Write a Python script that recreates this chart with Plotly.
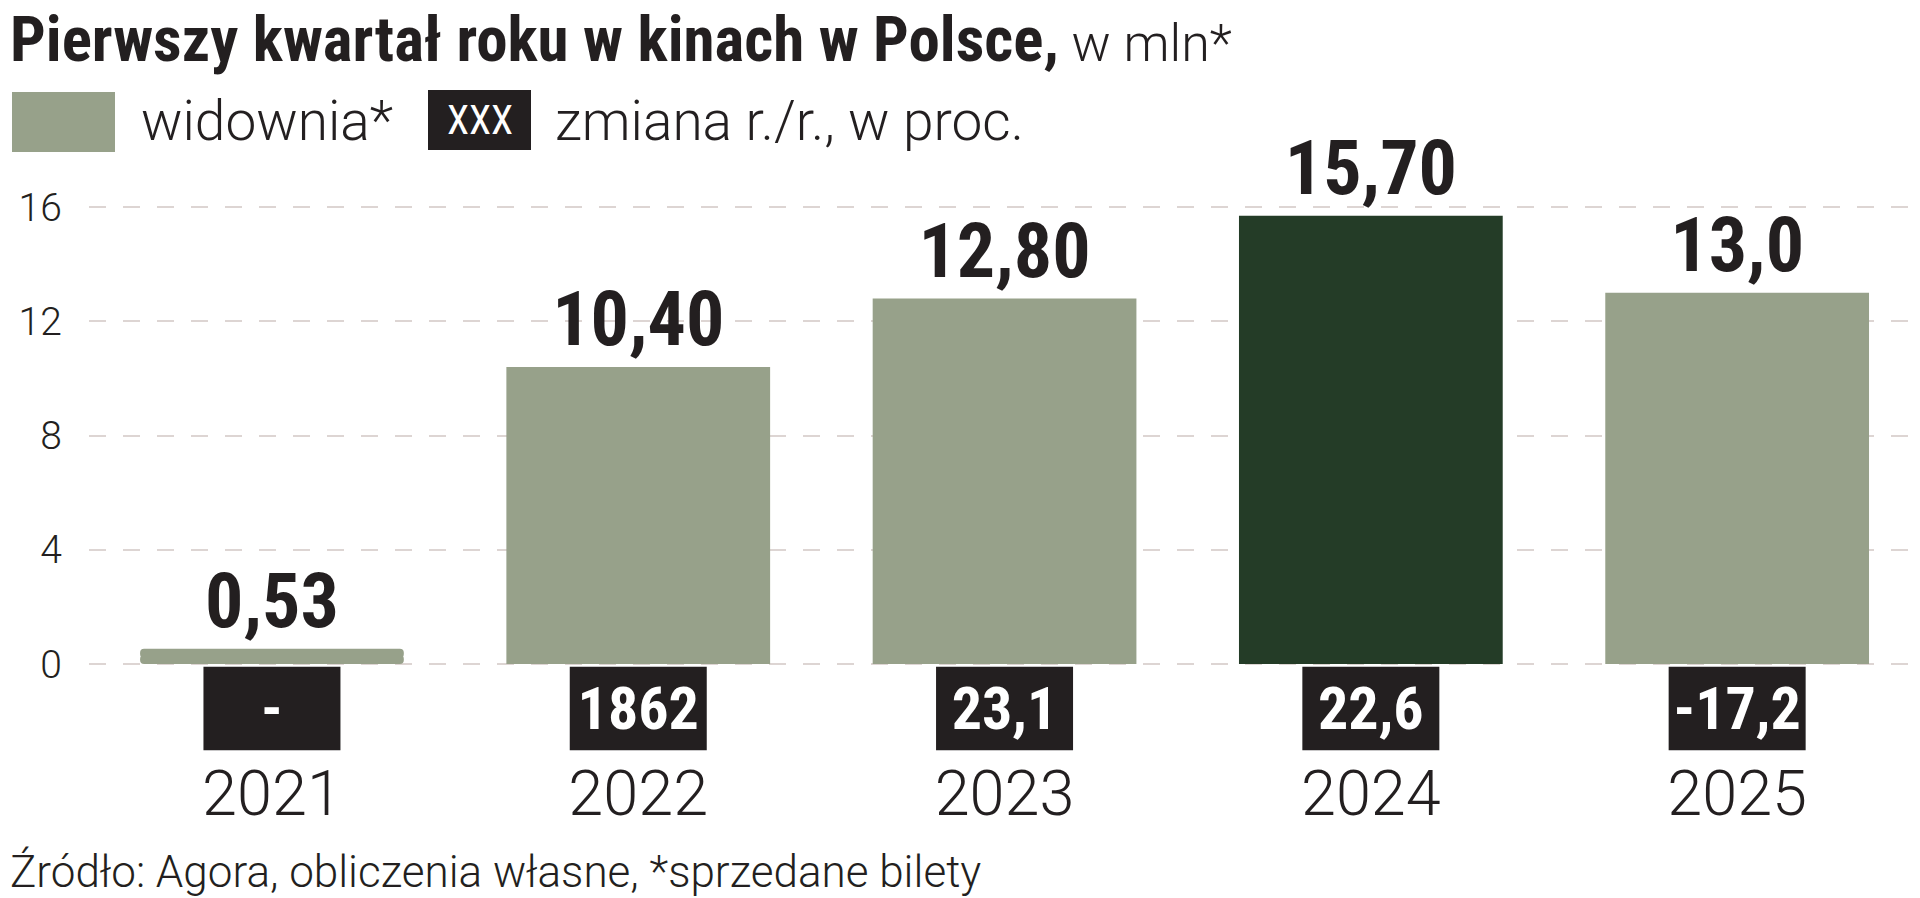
import plotly.graph_objects as go

# ---------------- data ----------------
years = ["2021", "2022", "2023", "2024", "2025"]
audience = [0.53, 10.40, 12.80, 15.70, 13.0]          # widownia, mln
audience_labels = ["0,53", "10,40", "12,80", "15,70", "13,0"]
yoy_labels = ["-", "1862", "23,1", "22,6", "-17,2"]   # zmiana r./r., w proc.
highlight_year = "2024"
y_ticks = [0, 4, 8, 12, 16]

# ---------------- style ----------------
W, H = 1920, 898
OFF = 8  # page body margin offset compensation
SAGE = "#97a18a"
DARK_GREEN = "#243c27"
BOX = "#231f20"
TEXT = "#231f20"
GRID = "#ddd5d3"
LIGHT = "Roboto"
NARROW = "Liberation Sans Narrow, Roboto Condensed, Roboto"

BAR_W = 0.72
BOX_W = 0.374
BOX_TOP = -0.1
BOX_DEPTH = -2.92

def px_x(p):
    return (p - OFF) / W

def px_y(p):
    return 1 - (p - OFF) / H

fig = go.Figure()

colors = [DARK_GREEN if y == highlight_year else SAGE for y in years]

# main bars (all but the tiny first one)
fig.add_trace(go.Bar(
    x=years[1:], y=audience[1:], width=BAR_W,
    marker=dict(color=colors[1:], line=dict(width=0)),
    text=audience_labels[1:], textposition="outside", textangle=0,
    textfont=dict(family=NARROW, size=76, color=TEXT, weight="bold"),
    constraintext="none", cliponaxis=False, hoverinfo="skip",
))

# tiny first bar drawn as a pill: two overlapping parts with rounded tips
v0 = audience[0]
fig.add_trace(go.Bar(
    x=years[:1], y=[-0.6 * v0], base=[0.6 * v0], width=BAR_W,
    marker=dict(color=colors[0], line=dict(width=0), cornerradius=7),
    hoverinfo="skip",
))
fig.add_trace(go.Bar(
    x=years[:1], y=[0.6 * v0], base=[0.4 * v0], width=BAR_W,
    marker=dict(color=colors[0], line=dict(width=0), cornerradius=7),
    text=audience_labels[:1], textposition="outside", textangle=0,
    textfont=dict(family=NARROW, size=76, color=TEXT, weight="bold"),
    constraintext="none", cliponaxis=False, hoverinfo="skip",
))

# year-on-year change boxes
fig.add_trace(go.Bar(
    x=years, y=[BOX_DEPTH] * len(years), base=[BOX_TOP] * len(years), width=BOX_W,
    marker=dict(color=BOX, line=dict(width=0)),
    text=yoy_labels, textposition="inside", insidetextanchor="middle", textangle=0,
    textfont=dict(family=NARROW, size=60, color="white", weight="bold"),
    constraintext="none", cliponaxis=False, hoverinfo="skip",
))

# plot area in screen pixels
plot_left, plot_right = 88.8, 1920.3
plot_top, plot_bottom = 150, 751
zero_px, unit_px = 664, 28.55
y_max = (zero_px - plot_top) / unit_px
y_min = -(plot_bottom - zero_px) / unit_px

fig.update_layout(
    width=W, height=H,
    margin=dict(l=0, r=0, t=0, b=0, autoexpand=False),
    paper_bgcolor="white", plot_bgcolor="white",
    barmode="overlay", showlegend=False,
    xaxis=dict(
        domain=[px_x(plot_left), min(1, px_x(plot_right))], range=[-0.5, 4.5], type="category",
        categoryorder="array", categoryarray=years,
        showgrid=False, showline=False, zeroline=False, ticks="",
        tickfont=dict(family=LIGHT, size=63, color=TEXT, weight=300),
        ticklabelstandoff=0, automargin=False,
    ),
    yaxis=dict(
        domain=[px_y(plot_bottom), px_y(plot_top)], range=[y_min, y_max],
        tickvals=y_ticks, ticktext=[str(v) for v in y_ticks],
        showgrid=True, gridcolor=GRID, gridwidth=2, griddash="17px,17px",
        zeroline=False, showline=False, ticks="",
        tickfont=dict(family=LIGHT, size=39, color=TEXT, weight=300),
        ticklabelstandoff=26, automargin=False,
    ),
)

# title
fig.add_annotation(
    xref="paper", yref="paper", x=0, y=px_y(39), xanchor="left", yanchor="middle",
    showarrow=False,
    text=('<span style="font-family:Liberation Sans Narrow, Roboto Condensed, Roboto;'
          'font-weight:700;font-size:63px">Pierwszy kwartał roku w kinach w Polsce,</span>'
          ' w mln*'),
    font=dict(family=LIGHT, size=52, color=TEXT, weight=300),
)

# legend
fig.add_shape(type="rect", xref="paper", yref="paper",
              x0=px_x(12), x1=px_x(115), y0=px_y(152), y1=px_y(92),
              fillcolor=SAGE, line=dict(width=0))
fig.add_annotation(xref="paper", yref="paper", x=px_x(139), y=px_y(121),
                   xanchor="left", yanchor="middle", showarrow=False,
                   text="widownia*", font=dict(family=LIGHT, size=55, color=TEXT, weight=300))
fig.add_shape(type="rect", xref="paper", yref="paper",
              x0=px_x(428), x1=px_x(531), y0=px_y(150), y1=px_y(90),
              fillcolor=BOX, line=dict(width=0))
fig.add_annotation(xref="paper", yref="paper", x=px_x(479.5), y=px_y(120),
                   xanchor="center", yanchor="middle", showarrow=False,
                   text="XXX", font=dict(family=NARROW, size=40, color="white"))
fig.add_annotation(xref="paper", yref="paper", x=px_x(553), y=px_y(121),
                   xanchor="left", yanchor="middle", showarrow=False,
                   text="zmiana r./r., w proc.", font=dict(family=LIGHT, size=55, color=TEXT, weight=300))

# source
fig.add_annotation(xref="paper", yref="paper", x=0, y=px_y(872),
                   xanchor="left", yanchor="middle", showarrow=False,
                   text="Źródło: Agora, obliczenia własne, *sprzedane bilety",
                   font=dict(family=LIGHT, size=44, color=TEXT, weight=300))

fig.write_html("out.html")
